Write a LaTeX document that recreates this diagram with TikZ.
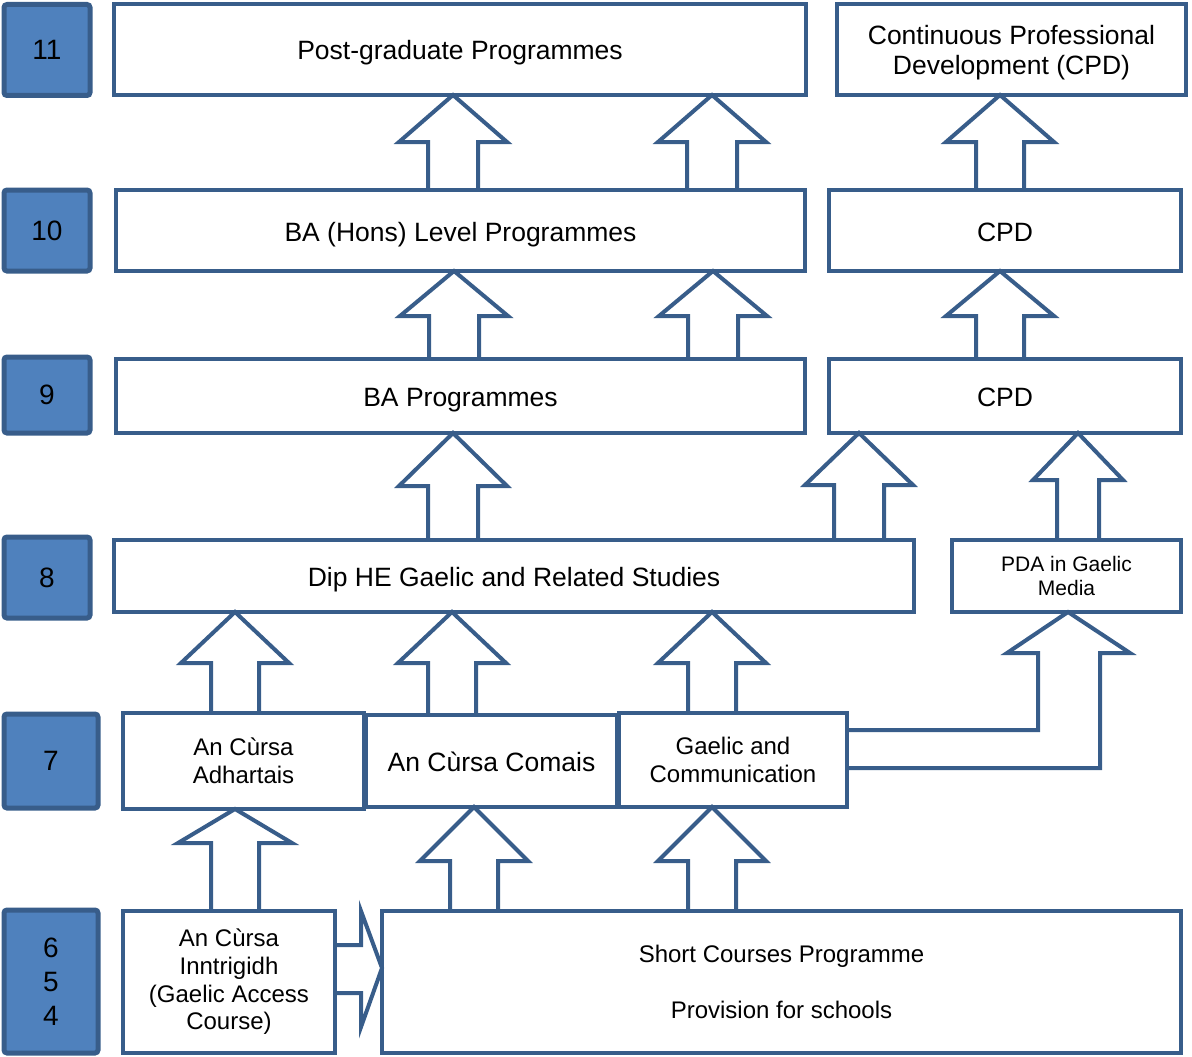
\documentclass[tikz,border=0pt]{standalone}
\usepackage{fontspec}
\setmainfont{Liberation Sans}
\usepackage{tikz}
\definecolor{levelfill}{HTML}{4F81BD}
\definecolor{levelline}{HTML}{385D8A}

\begin{document}
\begin{tikzpicture}[x=1pt, y=-1pt,
  level/.style={draw=levelline, fill=levelfill, line width=5pt, rounded corners=3pt,
    outer sep=0pt, inner sep=0pt, align=center, font=\fontsize{28}{34}\selectfont},
  box/.style={draw=levelline, fill=white, line width=4pt, outer sep=0pt,
    inner sep=0pt, align=center, font=\fontsize{24}{27.6}\selectfont},
  bigbox/.style={box, font=\fontsize{26.5}{30}\selectfont},
  oneline/.style={bigbox, text height=26.5pt, text depth=5.5pt},
  blockarrow/.style={draw=levelline, line width=4pt}]
\useasboundingbox (0,0) rectangle (1192,1057);

% Level boxes.
\node[level, minimum width=86pt, minimum height=91pt] (lelevel) at (47,50) {11};
\node[level, minimum width=86pt, minimum height=81pt] (lten) at (47,230.5) {10};
\node[level, minimum width=86pt, minimum height=76pt] (lnine) at (47,395) {9};
\node[level, minimum width=86pt, minimum height=81pt] (leight) at (47,577.5) {8};
\node[level, minimum width=94pt, minimum height=94pt] (lseven) at (51,761) {7};
\node[level, minimum width=94pt, minimum height=143pt] (lfour) at (51,981.5) {6\\5\\4};

% Programme boxes.
\node[oneline, minimum width=692pt, minimum height=91pt] (postgrad) at (460,49.5) {Post-graduate Programmes};
\node[bigbox, text height=55.5pt, minimum width=349pt, minimum height=91pt] (cpdtop) at (1011.5,49.5) {Continuous Professional\\Development (CPD)};
\node[oneline, minimum width=689pt, minimum height=81pt] (bahons) at (460.5,230.5) {BA (Hons) Level Programmes};
\node[oneline, minimum width=352pt, minimum height=81pt] (cpdten) at (1005,230.5) {CPD};
\node[oneline, minimum width=689pt, minimum height=74pt] (baprog) at (460.5,396) {BA Programmes};
\node[oneline, minimum width=352pt, minimum height=74pt] (cpdnine) at (1005,396) {CPD};
\node[oneline, minimum width=800pt, minimum height=72pt] (diphe) at (514,576) {Dip HE Gaelic and Related Studies};
\node[box, minimum width=229pt, minimum height=72pt, font=\fontsize{21}{24}\selectfont] (pda) at (1066.5,576) {PDA in Gaelic\\Media};
\node[box, minimum width=241pt, minimum height=96pt] (adhartais) at (243.5,761) {An Cùrsa\\Adhartais};
\node[oneline, minimum width=251pt, minimum height=92pt] (comais) at (491.5,761) {An Cùrsa Comais};
\node[box, minimum width=228pt, minimum height=94pt] (gaelic) at (733,760) {Gaelic and\\Communication};
\node[box, minimum width=212pt, minimum height=142pt] (inntrigidh) at (229,982) {An Cùrsa\\Inntrigidh\\(Gaelic Access\\Course)};
\node[box, minimum width=799pt, minimum height=142pt] (short) at (781.5,982) {Short Courses Programme\\[27.6pt]Provision for schools};

% Arrows from level 10 to level 11.
\draw[blockarrow] (428,0 |- bahons.north) -- (428,142) -- (399,142) -- (453,0 |- postgrad.south) -- (507,142) -- (478,142) -- (478,0 |- bahons.north);
\draw[blockarrow] (687,0 |- bahons.north) -- (687,142) -- (658,142) -- (712,0 |- postgrad.south) -- (766,142) -- (737,142) -- (737,0 |- bahons.north);
\draw[blockarrow] (976,0 |- cpdten.north) -- (976,142) -- (946,142) -- (1000,0 |- cpdtop.south) -- (1054,142) -- (1024,142) -- (1024,0 |- cpdten.north);

% Arrows from level 9 to level 10.
\draw[blockarrow] (429,0 |- baprog.north) -- (429,316) -- (400,316) -- (454,0 |- bahons.south) -- (508,316) -- (479,316) -- (479,0 |- baprog.north);
\draw[blockarrow] (688,0 |- baprog.north) -- (688,316) -- (659,316) -- (713,0 |- bahons.south) -- (767,316) -- (738,316) -- (738,0 |- baprog.north);
\draw[blockarrow] (976,0 |- cpdnine.north) -- (976,316) -- (946,316) -- (1000,0 |- cpdten.south) -- (1054,316) -- (1024,316) -- (1024,0 |- cpdnine.north);

% Arrows from level 8 to level 9.
\draw[blockarrow] (428,0 |- diphe.north) -- (428,486) -- (399,486) -- (453,0 |- baprog.south) -- (507,486) -- (478,486) -- (478,0 |- diphe.north);
\draw[blockarrow] (834,0 |- diphe.north) -- (834,485) -- (805,485) -- (859,0 |- cpdnine.south) -- (913,485) -- (884,485) -- (884,0 |- diphe.north);
\draw[blockarrow] (1057,0 |- pda.north) -- (1057,480) -- (1033,480) -- (1078,0 |- cpdnine.south) -- (1123,480) -- (1099,480) -- (1099,0 |- pda.north);

% Arrows from level 7 to level 8.
\draw[blockarrow] (211,0 |- adhartais.north) -- (211,663) -- (181,663) -- (235,0 |- diphe.south) -- (289,663) -- (259,663) -- (259,0 |- adhartais.north);
\draw[blockarrow] (428,0 |- comais.north) -- (428,663) -- (398,663) -- (452,0 |- diphe.south) -- (506,663) -- (476,663) -- (476,0 |- comais.north);
\draw[blockarrow] (688,0 |- gaelic.north) -- (688,663) -- (658,663) -- (712,0 |- diphe.south) -- (766,663) -- (736,663) -- (736,0 |- gaelic.north);
\draw[blockarrow] (gaelic.east |- 0,730) -- (1038,730) -- (1038,653) -- (1007,653) -- (1068,0 |- pda.south) -- (1130,653) -- (1100,653) -- (1100,768) -- (gaelic.east |- 0,768);

% Arrows from levels 6-4 to level 7.
\draw[blockarrow] (211,0 |- inntrigidh.north) -- (211,843) -- (178,843) -- (235,0 |- adhartais.south) -- (292,843) -- (259,843) -- (259,0 |- inntrigidh.north);
\draw[blockarrow] (450,0 |- short.north) -- (450,861) -- (420,861) -- (474,0 |- comais.south) -- (528,861) -- (498,861) -- (498,0 |- short.north);
\draw[blockarrow] (688,0 |- short.north) -- (688,861) -- (658,861) -- (712,0 |- gaelic.south) -- (766,861) -- (736,861) -- (736,0 |- short.north);
\draw[blockarrow] (inntrigidh.east |- 0,945) -- (361,945) -- (361,911) -- (short.west |- 0,968) -- (361,1027) -- (361,993) -- (inntrigidh.east |- 0,993);

\end{tikzpicture}
\end{document}
